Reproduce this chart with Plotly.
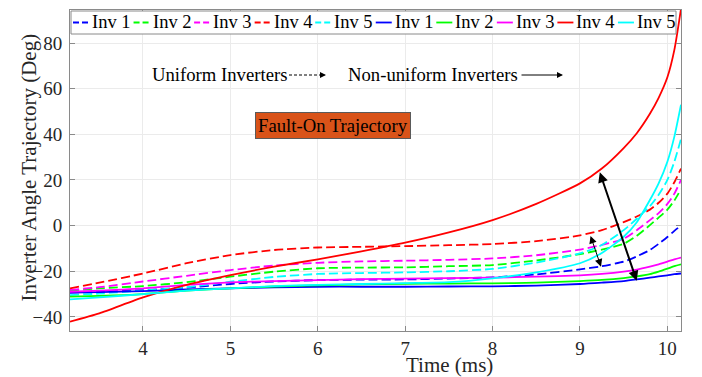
import plotly.graph_objects as go

# Sample instants (ms)
time_ms = [3.165, 3.5, 4.0, 4.5, 5.0, 5.5, 6.0, 6.5, 7.0, 7.5, 8.0, 8.5,
           9.0, 9.25, 9.5, 9.65, 9.8, 9.9, 10.0, 10.08, 10.156]

# Uniform inverters (dashed)
uni_inv1 = [-29.4, -29.0, -28.3, -27.2, -25.6, -24.5, -23.9, -23.7, -23.6, -23.2, -22.7, -21.4,
            -19.2, -17.8, -15.8, -13.5, -10.7, -8.0, -5.0, -2.3, 0.0]
uni_inv2 = [-28.5, -27.5, -26.5, -24.8, -22.4, -20.2, -18.7, -18.4, -18.3, -17.8, -17.3, -15.3,
            -12.5, -10.5, -8.0, -4.5, 0.2, 3.5, 7.0, 11.0, 16.0]
uni_inv3 = [-28.2, -27.0, -24.5, -22.0, -19.5, -17.5, -16.3, -15.7, -15.4, -15.0, -14.4, -13.0,
            -10.5, -8.5, -5.8, -2.0, 2.4, 5.5, 9.5, 14.0, 20.0]
uni_inv4 = [-27.5, -25.0, -21.0, -16.5, -12.9, -10.7, -9.6, -9.3, -9.0, -8.6, -8.1, -6.8,
            -4.3, -2.0, 1.5, 4.0, 7.0, 10.0, 14.0, 19.0, 25.0]
uni_inv5 = [-30.5, -29.8, -28.5, -27.0, -24.6, -22.5, -21.2, -20.8, -20.5, -20.0, -19.0, -16.2,
            -12.2, -8.5, -2.0, 3.0, 8.5, 13.5, 20.0, 28.0, 38.0]

# Non-uniform inverters (solid)
non_inv1 = [-29.4, -29.2, -28.7, -28.0, -27.5, -27.1, -26.8, -26.8, -26.8, -26.7, -26.6, -26.3,
            -25.6, -25.0, -24.3, -23.6, -22.8, -22.3, -21.8, -21.3, -21.0]
non_inv2 = [-31.1, -30.8, -30.0, -28.5, -27.5, -26.7, -26.2, -25.8, -25.5, -25.4, -25.3, -25.0,
            -24.3, -23.8, -23.0, -22.3, -21.3, -20.2, -18.9, -17.8, -17.0]
non_inv3 = [-29.0, -28.5, -27.5, -26.0, -24.9, -24.3, -23.9, -23.5, -23.2, -23.0, -22.8, -22.4,
            -21.8, -21.2, -20.2, -19.3, -18.0, -17.0, -15.8, -14.8, -14.0]
non_inv4 = [-42.1, -38.5, -31.5, -26.0, -21.7, -18.0, -14.8, -11.3, -7.5, -3.0, 2.4, 9.5,
            18.5, 25.0, 34.0, 40.5, 49.0, 56.0, 65.0, 77.0, 95.0]
non_inv5 = [-32.3, -31.5, -30.0, -28.5, -27.5, -26.5, -26.0, -25.6, -25.2, -24.8, -23.1, -20.5,
            -16.5, -12.0, -4.9, 1.5, 11.2, 18.5, 28.0, 39.0, 53.0]

inv_labels = ["Inv 1", "Inv 2", "Inv 3", "Inv 4", "Inv 5"]
inv_colors = ["#0000FF", "#00FF00", "#FF00FF", "#FF0000", "#00FFFF"]
uniform_sets = [uni_inv1, uni_inv2, uni_inv3, uni_inv4, uni_inv5]
nonuniform_sets = [non_inv1, non_inv2, non_inv3, non_inv4, non_inv5]

x_ticks = [4, 5, 6, 7, 8, 9, 10]
y_ticks = [-40, -20, 0, 20, 40, 60, 80]

FONT = "Liberation Serif, Times New Roman, serif"
W, H = 702, 377
ML, MR, MT, MB = 70, 21, 10, 46
PW, PH = W - ML - MR, H - MT - MB


def fx(px):
    return (px - ML) / PW


def fy(py):
    return (H - MB - py) / PH


fig = go.Figure()

dash_style = "9px,4px"
for lab, col, ys in zip(inv_labels, inv_colors, uniform_sets):
    fig.add_trace(go.Scatter(x=time_ms, y=ys, mode="lines", name=lab, showlegend=False,
                             line=dict(color=col, width=1.8, dash=dash_style,
                                       shape="spline", smoothing=0.6)))
for lab, col, ys in zip(inv_labels, inv_colors, nonuniform_sets):
    fig.add_trace(go.Scatter(x=time_ms, y=ys, mode="lines", name=lab, showlegend=False,
                             line=dict(color=col, width=1.8, shape="spline", smoothing=0.6)))

shapes = []
annotations = []

# Legend box along the top of the axes
shapes.append(dict(type="rect", xref="paper", yref="paper",
                   x0=fx(71), x1=fx(676), y0=fy(34), y1=fy(11),
                   line=dict(color="#8a8a8a", width=1), fillcolor="white", layer="above"))
entries = [(lab, col, "6px,3px") for lab, col in zip(inv_labels, inv_colors)] + \
          [(lab, col, "solid") for lab, col in zip(inv_labels, inv_colors)]
for i, (lab, col, dsh) in enumerate(entries):
    xs = 73 + 60.55 * i
    shapes.append(dict(type="line", xref="paper", yref="paper",
                       x0=fx(xs), x1=fx(xs + 16), y0=fy(22.5), y1=fy(22.5),
                       line=dict(color=col, width=1.8, dash=dsh), layer="above"))
    annotations.append(dict(xref="paper", yref="paper", x=fx(xs + 17), y=fy(22.5),
                            xanchor="left", yanchor="middle", text=lab, showarrow=False,
                            font=dict(family=FONT, size=18.5, color="black")))

# Line-style key
annotations.append(dict(xref="paper", yref="paper", x=fx(150), y=fy(74.5),
                        xanchor="left", yanchor="middle", text="Uniform Inverters",
                        showarrow=False, font=dict(family=FONT, size=18.7, color="black")))
shapes.append(dict(type="line", xref="paper", yref="paper",
                   x0=fx(289), x1=fx(322), y0=fy(75), y1=fy(75),
                   line=dict(color="black", width=1, dash="3px,2px")))
annotations.append(dict(xref="paper", yref="paper", x=fx(326), y=fy(75), ax=-6, ay=0,
                        text="", showarrow=True, arrowhead=2, arrowsize=1.2, arrowwidth=1,
                        arrowcolor="black"))
annotations.append(dict(xref="paper", yref="paper", x=fx(346), y=fy(74.5),
                        xanchor="left", yanchor="middle", text="Non-uniform Inverters",
                        showarrow=False, font=dict(family=FONT, size=18.7, color="black")))
annotations.append(dict(xref="paper", yref="paper", x=fx(563), y=fy(75), ax=-43, ay=0,
                        text="", showarrow=True, arrowhead=2, arrowsize=1.2, arrowwidth=1,
                        arrowcolor="black", standoff=0))

# Fault-on label
annotations.append(dict(x=6.17, y=43.9, xref="x", yref="y", text="Fault-On Trajectory",
                        showarrow=False, bgcolor="#D95319", bordercolor="#5a5a5a",
                        borderwidth=1, borderpad=2,
                        font=dict(family=FONT, size=18.7, color="black")))

# Spread arrows
annotations.append(dict(x=9.649, y=-24.2, ax=9.221, ay=24.0, xref="x", yref="y",
                        axref="x", ayref="y", text="", showarrow=True,
                        arrowhead=2, arrowside="end+start", arrowsize=1, arrowwidth=2,
                        arrowcolor="black", standoff=0, startstandoff=0))
annotations.append(dict(x=9.241, y=-18.0, ax=9.115, ay=-3.9, xref="x", yref="y",
                        axref="x", ayref="y", text="", showarrow=True,
                        arrowhead=2, arrowside="end+start", arrowsize=1.5, arrowwidth=1,
                        arrowcolor="black", standoff=0, startstandoff=0))

# Axis titles
annotations.append(dict(xref="paper", yref="paper", x=fx(449), y=fy(364.5),
                        xanchor="center", yanchor="middle", text="Time (ms)", showarrow=False,
                        font=dict(family=FONT, size=21, color="#262626")))
annotations.append(dict(xref="paper", yref="paper", x=fx(28), y=fy(167.5),
                        xanchor="center", yanchor="middle", text="Inverter Angle Trajectory (Deg)",
                        textangle=-90, showarrow=False,
                        font=dict(family=FONT, size=21, color="#262626")))

axis_common = dict(showgrid=True, gridcolor="#ebebeb", gridwidth=1, zeroline=False,
                   showline=True, linecolor="#8a8a8a", linewidth=1, mirror="ticks",
                   ticks="inside", ticklen=5, tickcolor="#8a8a8a",
                   tickfont=dict(family=FONT, size=19, color="#262626"))

fig.update_layout(
    width=W, height=H,
    margin=dict(l=ML, r=MR, t=MT, b=MB, pad=0),
    paper_bgcolor="white", plot_bgcolor="white",
    showlegend=False,
    font=dict(family=FONT),
    xaxis=dict(range=[3.165, 10.156], tickvals=x_ticks, **axis_common),
    yaxis=dict(range=[-46.2, 94.5], tickvals=y_ticks, ticklabelstandoff=3, **axis_common),
    shapes=shapes,
    annotations=annotations,
)

fig.write_html("out.html")
